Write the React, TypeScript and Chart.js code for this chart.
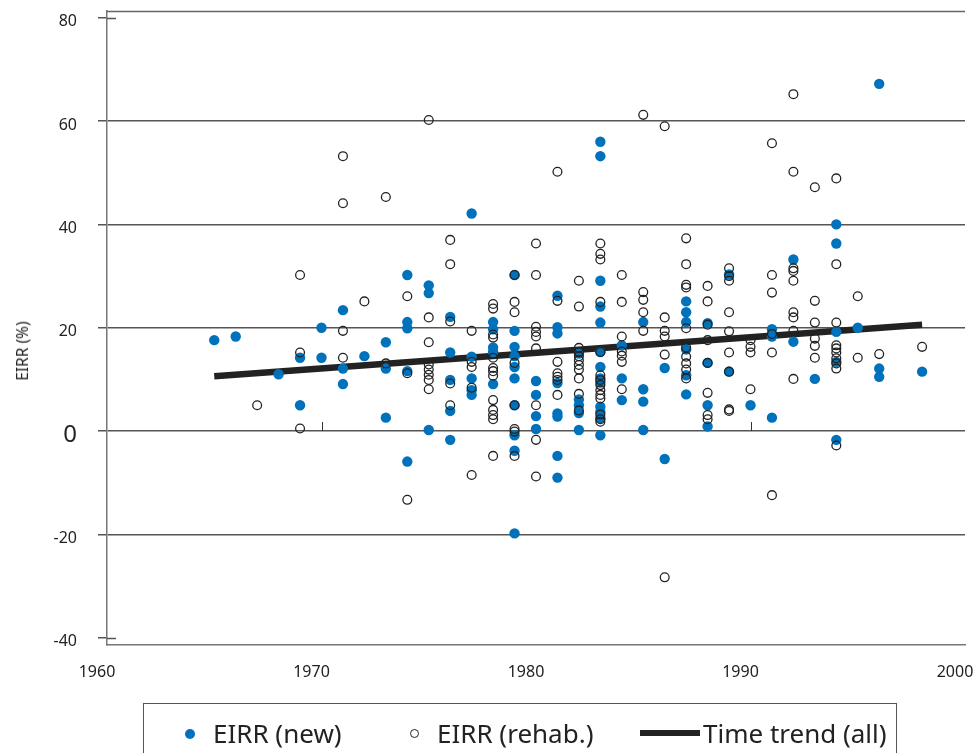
import React, { useEffect, useRef } from 'react';
import { Chart, registerables } from 'chart.js';

Chart.register(...registerables);

const FONT = '"Noto Sans", "Open Sans", sans-serif';
const BLUE = '#0072bc';
const INK = '#222222';

const xTicks = [1960, 1970, 1980, 1990, 2000];
const yTicks = [-40, -20, 0, 20, 40, 60, 80];
const markerYears = [1970, 1990];

const legendLabels = ['EIRR (new)', 'EIRR (rehab.)', 'Time trend (all)'];
const yTitle = 'EIRR (%)';

// [year, EIRR %] — new projects
const newPoints: [number, number][] = [
  [1965, 17.6], [1966, 18.3], [1968, 11.0],
  [1969, 14.2], [1969, 5.0],
  [1970, 20.0], [1970, 14.2],
  [1971, 23.4], [1971, 12.1], [1971, 9.1],
  [1972, 14.5],
  [1973, 17.2], [1973, 12.1], [1973, 2.6],
  [1974, 30.2], [1974, 21.1], [1974, 19.9], [1974, 11.6], [1974, -5.9],
  [1975, 28.2], [1975, 26.7], [1975, 0.2],
  [1976, 22.1], [1976, 15.2], [1976, 9.9], [1976, 3.9], [1976, -1.7],
  [1977, 42.1], [1977, 14.4], [1977, 10.2], [1977, 7.9], [1977, 7.0],
  [1978, 21.1], [1978, 19.7], [1978, 16.2], [1978, 15.3], [1978, 9.1],
  [1979, 30.2], [1979, 19.4], [1979, 16.3], [1979, 14.5], [1979, 12.4], [1979, 10.2], [1979, 5.0], [1979, -0.8], [1979, -3.8], [1979, -19.8],
  [1980, 9.7], [1980, 7.0], [1980, 2.9], [1980, 0.4],
  [1981, 26.2], [1981, 20.1], [1981, 18.9], [1981, 9.3], [1981, 3.4], [1981, 2.8], [1981, -4.8], [1981, -9.0],
  [1982, 15.0], [1982, 6.1], [1982, 5.0], [1982, 3.5], [1982, 0.2],
  [1983, 56.0], [1983, 53.2], [1983, 29.1], [1983, 24.1], [1983, 21.0], [1983, 15.3], [1983, 12.4], [1983, 10.2], [1983, 9.4], [1983, 4.7], [1983, 3.7], [1983, 2.5], [1983, -0.8],
  [1984, 16.6], [1984, 10.2], [1984, 6.0],
  [1985, 21.1], [1985, 8.1], [1985, 5.7], [1985, 0.2],
  [1986, 12.2], [1986, -5.4],
  [1987, 25.1], [1987, 23.0], [1987, 21.1], [1987, 15.8], [1987, 10.8], [1987, 7.1],
  [1988, 20.9], [1988, 13.2], [1988, 5.0], [1988, 0.9],
  [1989, 30.3], [1989, 11.5],
  [1990, 5.0],
  [1991, 19.7], [1991, 18.3], [1991, 2.6],
  [1992, 33.2], [1992, 17.3],
  [1993, 10.1],
  [1994, 40.0], [1994, 36.3], [1994, 19.2], [1994, 13.4], [1994, -1.7],
  [1995, 20.0],
  [1996, 67.2], [1996, 12.1], [1996, 10.5],
  [1998, 11.5],
];

// [year, EIRR %] — rehabilitation projects
const rehabPoints: [number, number][] = [
  [1967, 5.0],
  [1969, 30.2], [1969, 15.2], [1969, 0.5],
  [1971, 53.2], [1971, 44.1], [1971, 19.4], [1971, 14.2],
  [1972, 25.1],
  [1973, 45.3], [1973, 13.1],
  [1974, 26.1], [1974, 11.2], [1974, -13.3],
  [1975, 60.2], [1975, 22.0], [1975, 17.2], [1975, 12.9], [1975, 11.9], [1975, 10.9], [1975, 9.9], [1975, 8.1],
  [1976, 37.0], [1976, 32.3], [1976, 21.2], [1976, 9.2], [1976, 5.0],
  [1977, 19.4], [1977, 13.4], [1977, 12.4], [1977, 8.4], [1977, -8.5],
  [1978, 24.6], [1978, 23.7], [1978, 18.7], [1978, 18.1], [1978, 14.2], [1978, 12.2], [1978, 11.6], [1978, 10.7], [1978, 6.0], [1978, 4.1], [1978, 3.1], [1978, 2.3], [1978, -4.8],
  [1979, 30.2], [1979, 25.0], [1979, 23.0], [1979, 13.2], [1979, 5.0], [1979, 0.4], [1979, -0.1], [1979, -4.8],
  [1980, 36.3], [1980, 30.2], [1980, 20.2], [1980, 19.2], [1980, 18.3], [1980, 16.0], [1980, 5.0], [1980, -1.7], [1980, -8.8],
  [1981, 50.2], [1981, 25.2], [1981, 13.4], [1981, 11.2], [1981, 10.5], [1981, 9.9], [1981, 7.0],
  [1982, 29.1], [1982, 24.1], [1982, 16.1], [1982, 15.3], [1982, 14.5], [1982, 13.7], [1982, 12.8], [1982, 11.9], [1982, 10.2], [1982, 7.2], [1982, 4.0],
  [1983, 36.3], [1983, 34.3], [1983, 33.2], [1983, 25.0], [1983, 15.3], [1983, 10.8], [1983, 9.9], [1983, 8.9], [1983, 7.9], [1983, 7.0], [1983, 6.3], [1983, 3.2], [1983, 2.3], [1983, 1.8],
  [1984, 30.2], [1984, 25.0], [1984, 18.3], [1984, 15.4], [1984, 14.6], [1984, 13.4], [1984, 8.1],
  [1985, 61.2], [1985, 26.9], [1985, 25.4], [1985, 23.0], [1985, 19.4],
  [1986, 59.0], [1986, 22.0], [1986, 19.4], [1986, 18.3], [1986, 14.8], [1986, -28.3],
  [1987, 37.3], [1987, 32.3], [1987, 28.3], [1987, 27.8], [1987, 19.9], [1987, 16.2], [1987, 14.4], [1987, 13.1], [1987, 11.9], [1987, 10.2],
  [1988, 28.1], [1988, 25.1], [1988, 20.6], [1988, 17.6], [1988, 13.2], [1988, 7.4], [1988, 3.1], [1988, 2.3],
  [1989, 31.5], [1989, 30.0], [1989, 29.1], [1989, 23.0], [1989, 19.3], [1989, 15.2], [1989, 11.5], [1989, 4.2], [1989, 3.9],
  [1990, 17.6], [1990, 16.3], [1990, 15.2], [1990, 8.1],
  [1991, 55.7], [1991, 30.2], [1991, 26.8], [1991, 18.8], [1991, 15.2], [1991, -12.4],
  [1992, 65.2], [1992, 50.2], [1992, 31.5], [1992, 31.0], [1992, 29.1], [1992, 23.0], [1992, 22.0], [1992, 19.4], [1992, 10.1],
  [1993, 47.2], [1993, 25.2], [1993, 21.0], [1993, 17.9], [1993, 16.5], [1993, 14.2],
  [1994, 48.9], [1994, 32.3], [1994, 21.0], [1994, 16.6], [1994, 16.0], [1994, 15.2], [1994, 14.1], [1994, 13.1], [1994, 12.1], [1994, -2.8],
  [1995, 26.1], [1995, 14.2],
  [1996, 14.9],
  [1998, 16.3],
];

// Time trend (all)
const trendYears = [1965, 1998];
const trendValues = [10.6, 20.6];

const extrasPlugin = {
  id: 'extras',
  beforeDatasetsDraw(chart: any) {
    const { ctx, chartArea: a, scales } = chart;
    const x = scales.x;
    const y = scales.y;
    ctx.save();
    ctx.lineWidth = 1.5;
    ctx.strokeStyle = '#666';
    ctx.beginPath();
    ctx.moveTo(a.left, a.top + 0.5);
    ctx.lineTo(a.right, a.top + 0.5);
    ctx.stroke();
    ctx.strokeStyle = '#555';
    ctx.beginPath();
    for (const v of [yTicks[0], yTicks[yTicks.length - 1]]) {
      const py = Math.round(y.getPixelForValue(v)) + 0.5;
      ctx.moveTo(a.left, py);
      ctx.lineTo(a.left + 9, py);
    }
    ctx.stroke();
    ctx.lineWidth = 1;
    ctx.strokeStyle = '#333';
    ctx.beginPath();
    const y0 = y.getPixelForValue(0);
    for (const yr of markerYears) {
      const px = Math.round(x.getPixelForValue(yr)) + 0.5;
      ctx.moveTo(px, y0 - 9);
      ctx.lineTo(px, y0);
    }
    ctx.stroke();
    ctx.restore();
  },
};

export default function App() {
  const canvasRef = useRef<HTMLCanvasElement | null>(null);

  useEffect(() => {
    const canvas = canvasRef.current;
    if (!canvas) return;
    const chart = new Chart(canvas, {
      type: 'scatter',
      data: {
        datasets: [
          {
            label: legendLabels[0],
            data: newPoints.map(([x, y]) => ({ x, y })),
            pointRadius: 5.2,
            pointBackgroundColor: BLUE,
            pointBorderColor: BLUE,
            pointBorderWidth: 0,
            order: 2,
          },
          {
            label: legendLabels[1],
            data: rehabPoints.map(([x, y]) => ({ x, y })),
            pointRadius: 4.4,
            pointBackgroundColor: 'rgba(0,0,0,0)',
            pointBorderColor: INK,
            pointBorderWidth: 1.3,
            order: 1,
          },
          {
            label: legendLabels[2],
            data: trendYears.map((x, i) => ({ x, y: trendValues[i] })),
            showLine: true,
            borderColor: INK,
            borderWidth: 6.5,
            pointRadius: 0,
            order: 3,
          },
        ],
      },
      options: {
        animation: false,
        responsive: false,
        events: [],
        layout: { padding: { left: 0, top: 11, right: 13, bottom: 68 } },
        plugins: { legend: { display: false }, tooltip: { enabled: false } },
        scales: {
          x: {
            type: 'linear',
            min: 1960,
            max: 2000,
            afterBuildTicks: (s: any) => {
              s.ticks = xTicks.map((v) => ({ value: v }));
            },
            afterFit: (s: any) => {
              s.paddingLeft = 0;
              s.paddingRight = 0;
              s.height = 40;
            },
            grid: { display: false, drawTicks: false },
            border: { display: true, color: '#777', width: 1.5 },
            ticks: {
              padding: 18,
              labelOffset: -10,
              color: INK,
              font: { family: FONT, size: 16 },
              callback: (v: any) => String(v),
            },
          },
          y: {
            type: 'linear',
            min: -41.4,
            max: 81.3,
            afterBuildTicks: (s: any) => {
              s.ticks = yTicks.map((v) => ({ value: v }));
            },
            afterFit: (s: any) => {
              s.width = 107;
              s.paddingTop = 0;
              s.paddingBottom = 0;
            },
            grid: {
              color: (c: any) =>
                c.tick && (c.tick.value === 80 || c.tick.value === -40) ? 'rgba(0,0,0,0)' : '#555',
              tickColor: '#555',
              lineWidth: 1.5,
              tickLength: 9,
            },
            border: { display: true, color: '#777', width: 1.5 },
            ticks: {
              padding: 21,
              labelOffset: 4,
              color: INK,
              font: (c: any) => ({ family: FONT, size: c.tick && c.tick.value === 0 ? 24 : 16 }),
              callback: (v: any) => String(v),
            },
          },
        },
      },
      plugins: [extrasPlugin],
    } as any);
    return () => chart.destroy();
  }, []);

  const textStyle: React.CSSProperties = {
    position: 'absolute',
    top: 717,
    fontSize: 26,
    lineHeight: '32px',
    color: INK,
    whiteSpace: 'nowrap',
  };

  return (
    <div
      style={{
        position: 'absolute',
        left: 0,
        top: 0,
        width: 978,
        height: 753,
        overflow: 'hidden',
        background: '#fff',
        fontFamily: FONT,
      }}
    >
      <canvas ref={canvasRef} width={978} height={753} style={{ position: 'absolute', left: 0, top: 0 }} />
      <div
        style={{
          position: 'absolute',
          left: 22,
          top: 351,
          transform: 'translate(-50%, -50%) rotate(-90deg)',
          fontSize: 15.5,
          color: INK,
          whiteSpace: 'nowrap',
        }}
      >
        {yTitle}
      </div>
      <div
        style={{
          position: 'absolute',
          left: 143,
          top: 703,
          width: 754,
          height: 80,
          border: '1.5px solid #555',
          boxSizing: 'border-box',
        }}
      />
      <div style={{ position: 'absolute', left: 185, top: 729, width: 10, height: 10, borderRadius: '50%', background: BLUE }} />
      <div style={{ ...textStyle, left: 213 }}>{legendLabels[0]}</div>
      <div
        style={{
          position: 'absolute',
          left: 410,
          top: 729,
          width: 9,
          height: 9,
          borderRadius: '50%',
          border: `1.3px solid ${INK}`,
          boxSizing: 'border-box',
        }}
      />
      <div style={{ ...textStyle, left: 437 }}>{legendLabels[1]}</div>
      <div style={{ position: 'absolute', left: 640, top: 730, width: 60, height: 6, background: INK }} />
      <div style={{ ...textStyle, left: 703 }}>{legendLabels[2]}</div>
    </div>
  );
}
